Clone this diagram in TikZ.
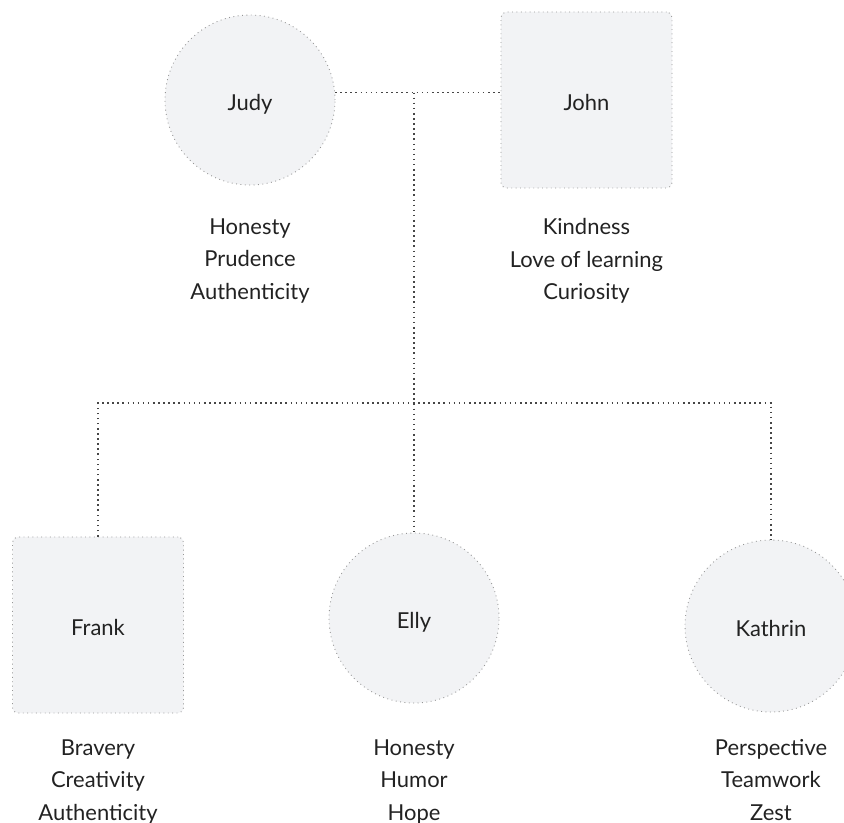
\documentclass[tikz,border=0pt]{standalone}
\usepackage{fontspec}
\setmainfont{Lato}
\usetikzlibrary{positioning}
\definecolor{kfill}{RGB}{242,243,245}
\definecolor{kedge}{RGB}{150,150,150}
\definecolor{kline}{RGB}{70,70,70}
\definecolor{ktext}{RGB}{34,34,34}
\tikzset{
  person/.style={draw=kedge, dotted, line width=0.5pt, fill=kfill, align=center, font=\fontsize{12.5}{18.4}\selectfont, text=ktext, text height=12.4pt, text depth=0pt},
  kfemale/.style={person, circle, minimum size=3.40cm},
  kmale/.style={person, rectangle, rounded corners=3pt, minimum width=3.42cm, minimum height=3.52cm},
  ktraits/.style={align=center, font=\fontsize{12.5}{18.4}\selectfont, text=ktext},
  link/.style={draw=kline, dotted, line width=0.9pt},
}

\begin{document}
\begin{tikzpicture}
    \useasboundingbox (0,0) rectangle (16.88,-16.46);
    \node[kfemale] (judy) at (5.00,-2.00) {Judy};
    \node[kmale] (john) at (11.73,-2.00) {John};
    \node[kmale] (frank) at (1.96,-12.50) {Frank};
    \node[kfemale] (elly) at (8.28,-12.36) {Elly};
    \node[kfemale, minimum size=3.44cm] (kathrin) at (15.42,-12.52) {Kathrin};
    \node[ktraits] (judytraits) at (5.00,-5.22) {Honesty\\Prudence\\Authenticity};
    \node[ktraits] (johntraits) at (11.73,-5.22) {Kindness\\Love of learning\\Curiosity};
    \node[ktraits] (franktraits) at (1.96,-15.64) {Bravery\\Creativity\\Authenticity};
    \node[ktraits] (ellytraits) at (8.28,-15.64) {Honesty\\Humor\\Hope};
    \node[ktraits] (kathrintraits) at (15.42,-15.60) {Perspective\\Teamwork\\Zest};
    \coordinate (union) at (judy.5 -| elly.north);
    \coordinate (sibs) at (8.28,-8.06);
    \draw[link] (judy.5) -- (judy.5 -| john.west);
    \draw[link] (union) -- (elly.north);
    \draw[link] (frank.north) |- (sibs) -| (kathrin.north);
  \end{tikzpicture}
\end{document}
